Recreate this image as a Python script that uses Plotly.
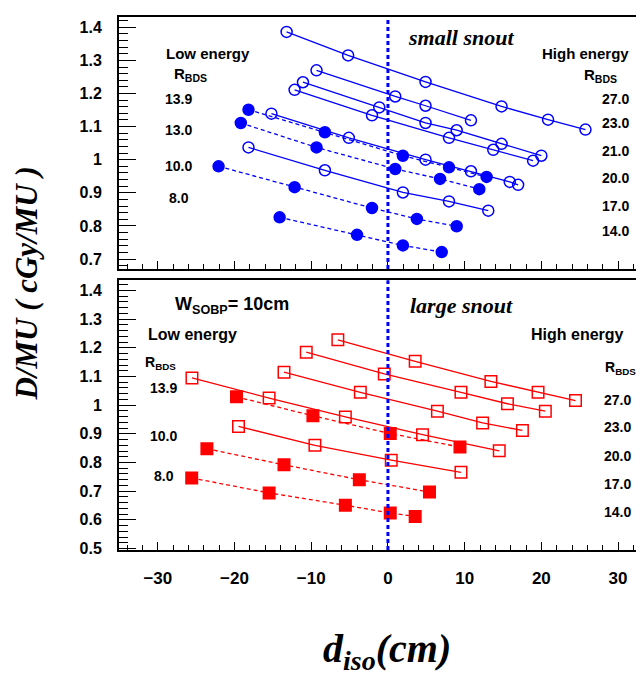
import plotly.graph_objects as go

# ---------------- data: small snout (top panel) ----------------
# open circles, solid lines (high energy)
top_open_x = [
    [-13.21, -5.19, 4.90, 14.81, 20.87, 25.75],
    [-9.31, 0.95, 4.90, 10.82],
    [-11.08, -1.13, 4.90, 8.96, 14.81, 20.00],
    [-12.17, -2.08, 7.96, 13.73, 18.92],
    [-15.19, -5.10, 4.90, 10.82, 15.88, 16.97],
    [-18.18, -8.22, 1.95, 7.96, 13.08],
]
top_open_y = [
    [1.386, 1.315, 1.235, 1.161, 1.121, 1.091],
    [1.270, 1.191, 1.163, 1.119],
    [1.234, 1.158, 1.111, 1.089, 1.048, 1.012],
    [1.211, 1.134, 1.066, 1.030, 0.997],
    [1.139, 1.066, 1.000, 0.965, 0.933, 0.924],
    [1.037, 0.968, 0.901, 0.874, 0.846],
]
# filled circles, dashed lines (low energy)
top_fill_x = [
    [-18.18, -8.22, 1.95, 7.96, 12.86],
    [-19.18, -9.31, 0.95, 6.79, 11.91],
    [-22.08, -12.17, -2.08, 3.77, 8.96],
    [-14.12, -4.03, 1.95, 7.01],
]
top_fill_y = [
    [1.151, 1.083, 1.012, 0.977, 0.948],
    [1.111, 1.037, 0.972, 0.942, 0.911],
    [0.980, 0.917, 0.854, 0.821, 0.799],
    [0.826, 0.773, 0.741, 0.721],
]

# ---------------- data: large snout (bottom panel) ----------------
bot_open_x = [
    [-6.53, 3.55, 13.42, 19.57, 24.45],
    [-10.65, -0.48, 9.52, 15.58, 20.52],
    [-13.55, -3.60, 6.45, 12.34, 17.53],
    [-25.55, -15.49, -5.55, 4.51, 14.51],
    [-19.48, -9.52, 0.43, 9.52],
]
bot_open_y = [
    [1.228, 1.153, 1.083, 1.045, 1.016],
    [1.185, 1.109, 1.045, 1.005, 0.979],
    [1.115, 1.045, 0.979, 0.938, 0.912],
    [1.095, 1.025, 0.959, 0.897, 0.841],
    [0.926, 0.860, 0.808, 0.766],
]
bot_fill_x = [
    [-19.74, -9.78, 0.30, 9.39],
    [-23.60, -13.55, -3.73, 5.42],
    [-25.58, -15.49, -5.55, 0.30, 3.55],
]
bot_fill_y = [
    [1.029, 0.963, 0.901, 0.854],
    [0.848, 0.792, 0.740, 0.697],
    [0.746, 0.694, 0.651, 0.624, 0.612],
]

low_labels_top = ["13.9", "13.0", "10.0", "8.0"]
high_labels_top = ["27.0", "23.0", "21.0", "20.0", "17.0", "14.0"]
low_labels_bot = ["13.9", "10.0", "8.0"]
high_labels_bot = ["27.0", "23.0", "20.0", "17.0", "14.0"]

x_ticks = [-30, -20, -10, 0, 10, 20, 30]

BLUE = "#0000ff"
RED = "#ff0000"

fig = go.Figure()

def add_series(xs, ys, color, symbol, dash, xa, ya):
    for x, y in zip(xs, ys):
        fig.add_trace(go.Scatter(
            x=x, y=y, mode="lines+markers", xaxis=xa, yaxis=ya,
            line=dict(color=color, width=1.3, dash=dash),
            marker=dict(symbol=symbol, size=11.5 if "square" in symbol else 11,
                        color=color, line=dict(color=color, width=1.5)),
            showlegend=False, hoverinfo="skip"))

add_series(top_open_x, top_open_y, BLUE, "circle-open", "solid", "x", "y")
add_series(top_fill_x, top_fill_y, BLUE, "circle", "4px,3px", "x", "y")
add_series(bot_open_x, bot_open_y, RED, "square-open", "solid", "x2", "y2")
add_series(bot_fill_x, bot_fill_y, RED, "square", "4px,3px", "x2", "y2")

# vertical blue dotted line at x = 0 in both panels
for xr, yr in [("x", "y domain"), ("x2", "y2 domain")]:
    fig.add_shape(type="line", xref=xr, yref=yr, x0=0, x1=0, y0=0, y1=1,
                  line=dict(color=BLUE, width=3, dash="4px,3px"))

XR = [-35.06, 33.38]
common_x = dict(range=XR, ticks="inside", ticklen=8, tickwidth=1.3, tickcolor="black",
                tickvals=x_ticks, showline=True, linecolor="black", linewidth=2,
                mirror=True, showgrid=False, zeroline=False,
                minor=dict(dtick=2, tick0=0, ticks="inside", ticklen=5,
                           tickwidth=1.2, tickcolor="black", showgrid=False),
                tickfont=dict(family="Liberation Sans", size=17, color="black", weight="bold"),
                ticklabelstandoff=12)
common_y = dict(ticks="inside", ticklen=17, tickwidth=1.3, tickcolor="black",
                dtick=0.1, tick0=0, showline=True, linecolor="black", linewidth=2,
                mirror=True, showgrid=False, zeroline=False,
                minor=dict(dtick=0.02, tick0=0, ticks="inside", ticklen=9,
                           tickwidth=1.2, tickcolor="black", showgrid=False),
                tickfont=dict(family="Liberation Sans", size=16, color="black", weight="bold"),
                ticklabelstandoff=12)

fig.update_layout(
    width=644, height=677,
    margin=dict(l=111, r=6, t=9, b=135),
    paper_bgcolor="white", plot_bgcolor="white",
    xaxis=dict(common_x, domain=[0, 1], anchor="y", showticklabels=False),
    yaxis=dict(common_y, domain=[0.5272, 1], anchor="x", range=[0.6698, 1.4311]),
    xaxis2=dict(common_x, domain=[0, 1], anchor="y2", showticklabels=True),
    yaxis2=dict(common_y, domain=[0, 0.506], anchor="x2", range=[0.4949, 1.4356]),
)

SANS = "Liberation Sans"
SERIF = "Liberation Serif"

def txt(text, x, y, xr, yr, size, family=SANS, italic=False, xanchor="center"):
    fig.add_annotation(text=text, x=x, y=y, xref=xr, yref=yr, showarrow=False,
                       xanchor=xanchor, yanchor="middle",
                       font=dict(family=family, size=size, color="black", weight="bold",
                                 style="italic" if italic else "normal"))

# top panel texts
txt("Low energy", -23.4, 1.322, "x", "y", 15)
txt("R<sub>BDS</sub>", -25.8, 1.256, "x", "y", 15)
for lab, yy in zip(low_labels_top, [1.183, 1.090, 0.981, 0.884]):
    txt(lab, -27.3, yy, "x", "y", 14)
txt("small snout", 9.5, 1.368, "x", "y", 22, family=SERIF, italic=True)
txt("High energy", 25.7, 1.322, "x", "y", 15)
txt("R<sub>BDS</sub>", 27.7, 1.253, "x", "y", 15)
for lab, yy in zip(high_labels_top, [1.183, 1.111, 1.026, 0.945, 0.860, 0.785]):
    txt(lab, 29.7, yy, "x", "y", 14)

# bottom panel texts
txt("W<sub>SOBP</sub>= 10cm", -20.3, 1.346, "x2", "y2", 18)
txt("Low energy", -25.5, 1.245, "x2", "y2", 16)
txt("R<sub>BDS</sub>", -29.6, 1.147, "x2", "y2", 14)
for lab, yy in zip(low_labels_bot, [1.060, 0.893, 0.753]):
    txt(lab, -29.2, yy, "x2", "y2", 14)
txt("large snout", 9.6, 1.349, "x2", "y2", 22, family=SERIF, italic=True)
txt("High energy", 24.7, 1.245, "x2", "y2", 16)
txt("R<sub>BDS</sub>", 30.3, 1.130, "x2", "y2", 14)
for lab, yy in zip(high_labels_bot, [1.018, 0.924, 0.823, 0.725, 0.627]):
    txt(lab, 29.9, yy, "x2", "y2", 14)

# axis titles
fig.add_annotation(text="D/MU ( cGy/MU )", x=-0.177, y=0.50, xref="paper", yref="paper",
                   showarrow=False, textangle=-90, xanchor="center", yanchor="middle",
                   font=dict(family=SERIF, size=31, color="black", weight="bold", style="italic"))
fig.add_annotation(text="d<sub>iso</sub>(cm)", x=0.51, y=-0.19, xref="paper", yref="paper",
                   showarrow=False, xanchor="center", yanchor="middle",
                   font=dict(family=SERIF, size=40, color="black", weight="bold", style="italic"))

fig.write_html("out.html")
